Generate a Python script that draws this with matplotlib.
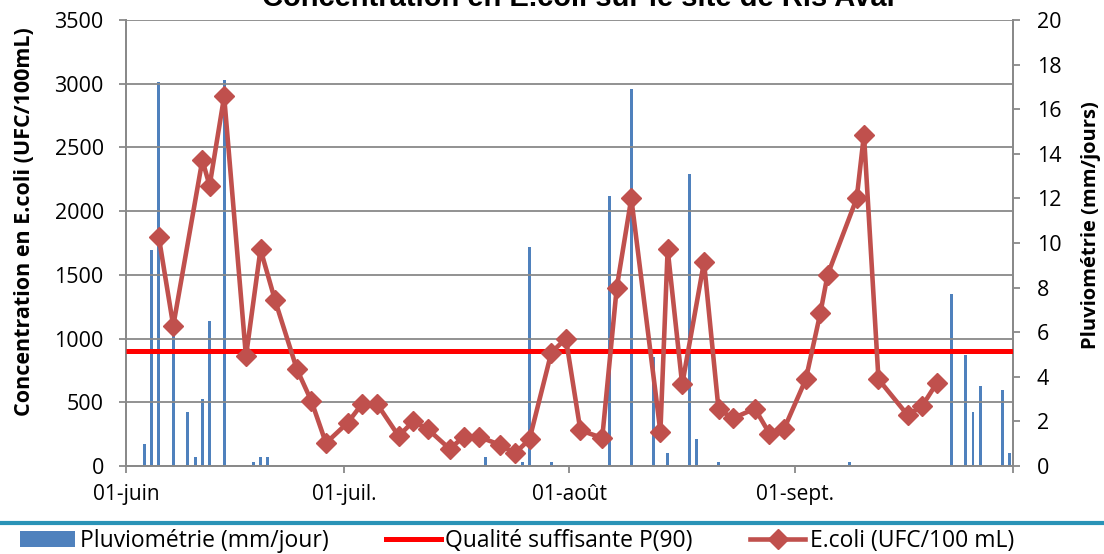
import numpy as np
import matplotlib
matplotlib.use("Agg")
import matplotlib.pyplot as plt
from matplotlib.lines import Line2D
from matplotlib.patches import Patch

plt.rcParams['font.family'] = ['Open Sans', 'DejaVu Sans']

# E.coli (UFC/100 mL) - jours depuis le 01-juin
jours_ecoli = [4, 6, 10, 11, 13, 16, 18, 20, 23, 25, 27, 30, 32, 34, 37, 39, 41, 44, 46, 48,
               51, 53, 55, 58, 60, 62, 65, 67, 69, 73, 74, 76, 79, 81, 83, 86, 88, 90, 93, 95,
               96, 100, 101, 103, 107, 109, 111]
ecoli = [1800, 1100, 2400, 2200, 2900, 860, 1700, 1300, 760, 510, 180, 340, 490, 490, 235, 350,
         290, 135, 230, 230, 165, 100, 210, 890, 1000, 280, 220, 1400, 2100, 270, 1700, 640,
         1600, 445, 375, 450, 255, 290, 680, 1200, 1500, 2100, 2600, 680, 400, 470, 650]

# Pluviometrie (mm/jour)
jours_pluie = [2, 3, 4, 6, 8, 9, 10, 11, 13, 17, 18, 19, 49, 54, 55, 58, 66, 69, 72, 74, 77, 78,
               81, 99, 113, 115, 116, 117, 120, 121]
pluie = [1.0, 9.7, 17.2, 6.1, 2.4, 0.4, 3.0, 6.5, 17.3, 0.2, 0.4, 0.4, 0.4, 0.2, 9.8, 0.2, 12.1,
         16.9, 4.9, 0.6, 13.1, 1.2, 0.2, 0.2, 7.7, 5.0, 2.4, 3.6, 3.4, 0.6]

seuil = 900  # Qualite suffisante P(90)

mois_labels = ['01-juin', '01-juil.', '01-août', '01-sept.', '']
mois_jours = [30, 31, 31, 30]

titre = "Concentration en E.coli sur le site de Ris Aval"

grey = '#898989'
fig = plt.figure(figsize=(11.04, 5.54), dpi=100)
ax = fig.add_axes([126/1104, 1 - 466/554, (1013 - 126)/1104, (466 - 20)/554])
ax2 = ax.twinx()

# bars behind the lines
ax.set_zorder(ax2.get_zorder() + 1)
ax.patch.set_visible(False)

x_pluie = np.array(jours_pluie) + 0.5
x_ecoli = np.array(jours_ecoli) + 0.5
ax2.bar(x_pluie, pluie, width=0.4, color='#4F81BD')
ax.axhline(seuil, color='#FF0000', lw=3.6, zorder=3, solid_capstyle='butt')
ax.plot(x_ecoli, ecoli, color='#C0504D', lw=3.3, marker='D', markersize=10, zorder=4)

fin = sum(mois_jours)
ax.set_xlim(0, fin)
ax.set_ylim(0, 3500)
ax.set_yticks(np.arange(0, 3501, 500))
ax2.set_ylim(0, 20)
ax2.set_yticks(np.arange(0, 21, 2))
ax.set_xticks(np.concatenate([[0], np.cumsum(mois_jours)]))
ax.set_xticklabels(mois_labels)

ax.grid(axis='y', color=grey, lw=1.3)
ax.set_axisbelow(True)
for a in (ax, ax2):
    for s in a.spines.values():
        s.set_color(grey)
        s.set_linewidth(1.3)
    a.spines['top'].set_visible(False)
ax.tick_params(axis='y', length=5, width=1.3, color=grey, labelsize=15.5, pad=11)
ax.tick_params(axis='x', length=5, width=1.3, color=grey, labelsize=15, pad=8)
ax2.tick_params(axis='y', length=5, width=1.3, color=grey, labelsize=15.5, pad=12)

fig.text(25/1104, 1 - 222/554, 'Concentration en E.coli (UFC/100mL)', rotation=90,
         ha='center', va='center', fontsize=15.5, fontweight='bold')
fig.text(1091/1104, 1 - 225/554, 'Pluviométrie (mm/jours)', rotation=90,
         ha='center', va='center', fontsize=14.5, fontweight='bold')
fig.text(578/1104, 1 - 6/554, titre, ha='center', va='baseline', fontsize=21,
         fontweight='bold', family='Liberation Sans')

# separator line above legend
fig.add_artist(Line2D([0, 1], [1 - 523/554] * 2, transform=fig.transFigure,
                      color='#2A93B7', lw=3))

handles = [Patch(facecolor='#4F81BD', edgecolor='none'),
           Line2D([], [], color='#FF0000', lw=3.6),
           Line2D([], [], color='#C0504D', lw=3.3, marker='D', markersize=10)]
labels = ['Pluviométrie (mm/jour)', 'Qualité suffisante P(90)', 'E.coli (UFC/100 mL)']
fig.legend(handles, labels, loc='center left', bbox_to_anchor=(20/1104, 1 - 541/554),
           ncol=3, frameon=False, fontsize=16.5, handlelength=2.4, handletextpad=0.2,
           columnspacing=2.5, borderpad=0, borderaxespad=0)

fig.savefig('out.png', dpi=100)
